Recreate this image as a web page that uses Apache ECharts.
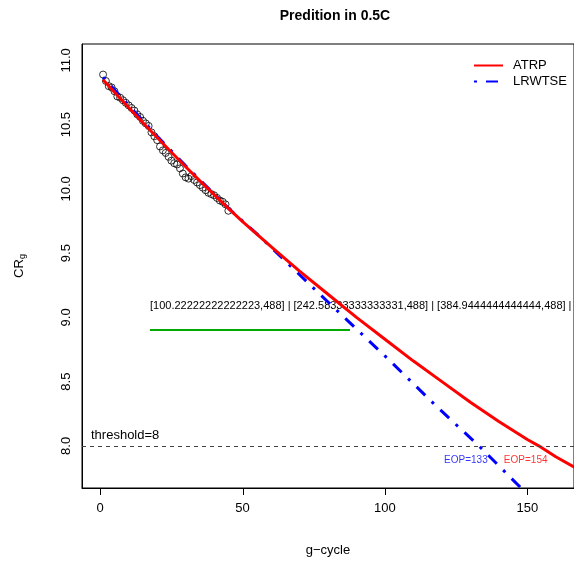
<!DOCTYPE html>
<html><head><meta charset="utf-8">
<script src="https://cdn.jsdelivr.net/npm/echarts@6/dist/echarts.min.js"></script>
<style>html,body{margin:0;padding:0;background:#fff}#c{width:574px;height:565px}</style>
</head><body><div id="c"></div>
<script>
const obsCycle = [1,2,3,4,5,6,7,8,9,10,11,12,13,14,15,16,17,18,19,20,21,22,23,24,25,26,27,28,29,30,31,32,33,34,35,36,37,38,39,40,41,42,43,44,45];
const obsCR = [10.89,10.84,10.80,10.79,10.76,10.72,10.71,10.69,10.67,10.65,10.63,10.61,10.58,10.56,10.53,10.51,10.49,10.44,10.41,10.38,10.33,10.30,10.28,10.25,10.22,10.20,10.19,10.16,10.12,10.09,10.08,10.10,10.07,10.05,10.03,10.01,9.99,9.97,9.96,9.95,9.93,9.91,9.90,9.88,9.83];
const atrpCycle = [1,5,10,15,20,25,30,35,40,45,50,60,70,80,90,100,110,120,130,140,150,154,160,170];
const atrpCR = [10.85,10.753,10.633,10.515,10.40,10.285,10.173,10.063,9.955,9.848,9.745,9.55,9.36,9.18,9.00,8.83,8.66,8.50,8.34,8.19,8.05,8.00,7.915,7.79];
const lrwCycle = [1,10,20,30,45,56,80,100,118,133,147,152];
const lrwCR = [10.87,10.65,10.41,10.18,9.85,9.63,9.12,8.70,8.31,8.00,7.69,7.58];
const xTicks = [0,50,100,150];
const yTicks = [8.0,8.5,9.0,9.5,10.0,10.5,11.0];
const threshold = 8;
const eopCycle = [133,154];
const eopText = ['EOP=133','EOP=154'];
const X_MIN = -6.4, X_MAX = 166.4, Y_MIN = 7.672, Y_MAX = 11.128;
const FONT = 'Liberation Sans';
const chart = echarts.init(document.getElementById('c'), null, {renderer:'canvas'});
const zip = (a,b)=>a.map((v,i)=>[v,b[i]]);
let log = [];
try {
chart.setOption({
  animation:false,
  textStyle:{fontFamily:FONT},
  title:{text:'Predition in 0.5C',left:330,textAlign:'center',top:4,
    textStyle:{fontFamily:FONT,fontSize:14,fontWeight:'bold',color:'#000'}},
  grid:{left:82,top:44,right:-4,bottom:77,show:true,borderColor:'#000',borderWidth:1},
  legend:{orient:'vertical',left:468,top:54,itemWidth:29,itemHeight:14,itemGap:3,
    data:['ATRP','LRWTSE'],
    itemStyle:{color:'rgba(0,0,0,0)',borderWidth:0,opacity:0},
    textStyle:{fontFamily:FONT,fontSize:13,color:'#000',padding:[0,0,0,5]}},
  xAxis:{type:'value',min:X_MIN,max:X_MAX,
    name:'g\u2212cycle',nameLocation:'middle',nameGap:56,
    nameTextStyle:{fontFamily:FONT,fontSize:13,color:'#000'},
    axisLine:{show:true,onZero:false,lineStyle:{color:'#000',width:1}},splitLine:{show:false},
    axisTick:{show:false},
    axisLabel:{customValues:xTicks,margin:14,fontFamily:FONT,fontSize:13,color:'#000'}},
  yAxis:{type:'value',min:Y_MIN,max:Y_MAX,
    name:'{a|CR}{b|g}',nameLocation:'middle',nameGap:55,nameRotate:90,
    nameTextStyle:{rich:{a:{fontFamily:FONT,fontSize:13,color:'#000'},b:{fontFamily:FONT,fontSize:9,color:'#000',verticalAlign:'bottom',padding:[6,0,0,0]}}},
    axisLine:{show:true,onZero:false,lineStyle:{color:'#000',width:1}},splitLine:{show:false},
    axisTick:{show:false},
    axisLabel:{customValues:yTicks,rotate:90,margin:9,fontFamily:FONT,fontSize:13,color:'#000',
      formatter:v=>Number(v).toFixed(1)}},
  series:[
    {name:'obs',type:'scatter',data:zip(obsCycle,obsCR),symbol:'circle',symbolSize:7,
      itemStyle:{color:'rgba(0,0,0,0)',borderColor:'#000',borderWidth:1},z:2},
    {name:'threshold',type:'line',data:[],z:1,
      markLine:{silent:true,symbol:'none',
        lineStyle:{color:'#444',width:1,type:[4,4]},
        label:{show:true,position:'insideStartTop',formatter:'threshold='+threshold,distance:[9,4],
          fontFamily:FONT,fontSize:13,color:'#000'},
        data:[{yAxis:threshold}]}},
    {name:'LRWTSE',type:'line',data:zip(lrwCycle,lrwCR),showSymbol:false,symbol:'none',
      lineStyle:{color:'#0000FF',width:3,type:[3,9,12,9],cap:'butt'},itemStyle:{color:'#0000FF'},z:3},
    {name:'ATRP',type:'line',data:zip(atrpCycle,atrpCR),showSymbol:false,symbol:'none',
      lineStyle:{color:'#FF0000',width:3},itemStyle:{color:'#FF0000'},z:4},
    {name:'eop',type:'scatter',symbolSize:0,z:5,
      data:eopCycle.map((c,i)=>({value:[c,threshold],
        label:{show:true,formatter:eopText[i],color:i===0?'#0000FF':'#FF0000',
          position:'inside',offset:[-13,14],fontFamily:FONT,fontSize:10}}))}
  ]
});
} catch(e) { log.push('E1:'+e.message); }
const tickEls = [];
try {
xTicks.forEach(v=>{
  const p = chart.convertToPixel({gridIndex:0},[v,Y_MIN]);
  log.push(JSON.stringify(p));
  const x = Math.round(p[0])+0.5;
  tickEls.push({type:'line',shape:{x1:x,y1:p[1],x2:x,y2:p[1]+7},style:{stroke:'#000',lineWidth:1}});
});
} catch(e) { log.push('E2:'+e.message); }
tickEls.push({type:'text',left:150,top:300,style:{text:log.join(' | '),fontSize:11,fill:'#000'}});
tickEls.push({type:'line',shape:{x1:150,y1:330,x2:350,y2:330},style:{stroke:'#0a0',lineWidth:2}});
try { chart.setOption({graphic:{elements:tickEls}}); } catch(e) { document.body.insertAdjacentHTML('beforeend','<p>E3:'+e.message+'</p>'); }
</script></body></html>
